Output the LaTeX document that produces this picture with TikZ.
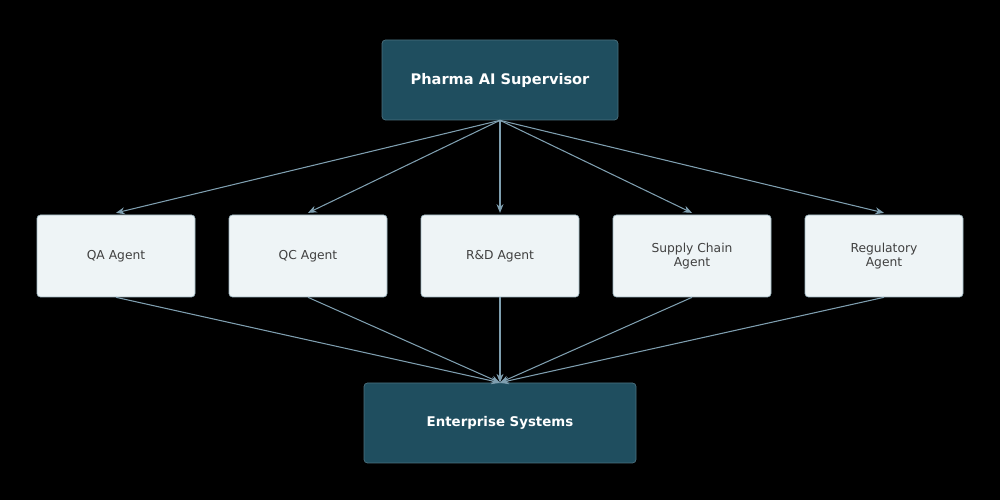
\documentclass[tikz,border=0pt]{standalone}
\usepackage{fontspec}
\setmainfont{DejaVu Sans}
\usepackage{tikz}
\usetikzlibrary{arrows.meta,positioning}
\definecolor{hub}{HTML}{1F4E5F}
\definecolor{agentfill}{HTML}{EEF4F6}
\definecolor{agentline}{HTML}{9FB8C2}
\definecolor{link}{HTML}{7F9FB0}
\begin{document}
\begin{tikzpicture}[
  hub/.style={fill=hub,draw=hub!80!white,rounded corners=2pt,minimum width=4.72cm,minimum height=1.6cm,align=center,font=\fontsize{8.3}{10}\selectfont\bfseries,text=white},
  agent/.style={fill=agentfill,draw=agentline,rounded corners=2pt,minimum width=3.16cm,minimum height=1.64cm,align=center,font=\fontsize{7}{8}\selectfont,text=black!75},
  arr/.style={-{Stealth[length=5pt,width=4pt]},link,line width=0.6pt}
]
\fill[black] (0,0) rectangle (20,10);
\useasboundingbox (0,0) rectangle (20,10);

\node[hub] (sup) at (10,8.4) {Pharma AI Supervisor};
\node[agent] (qa)  at (2.32,4.88)  {QA Agent};
\node[agent] (qc)  at (6.16,4.88)  {QC Agent};
\node[agent] (rd)  at (10,4.88)    {R\&D Agent};
\node[agent] (sc)  at (13.84,4.88) {Supply Chain\\Agent};
\node[agent] (reg) at (17.68,4.88) {Regulatory\\Agent};
\node[hub] (ent) at (10,1.54) [minimum width=5.44cm,font=\fontsize{7.6}{9}\selectfont\bfseries] {Enterprise Systems};

\foreach \a in {qa,qc,rd,sc,reg}{
  \draw[arr] (sup.south) -- ([yshift=1pt]\a.north);
  \draw[arr] (\a.south) -- (ent.north);
}
\end{tikzpicture}
\end{document}
